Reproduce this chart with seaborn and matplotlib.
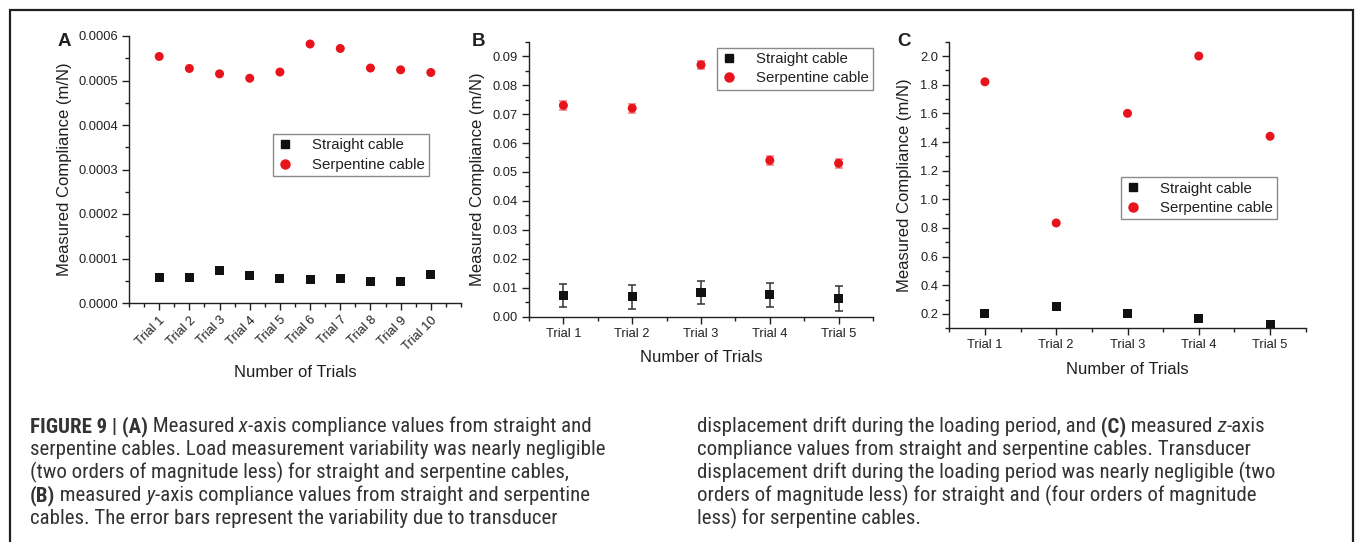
import numpy as np
import pandas as pd
import matplotlib
matplotlib.use("Agg")
import matplotlib.pyplot as plt
from matplotlib.ticker import MultipleLocator, FixedLocator
import seaborn as sns

# ---- data ----
trials_a = ["Trial %d" % i for i in range(1, 11)]
trials_bc = ["Trial %d" % i for i in range(1, 6)]

a_straight = [5.7e-5, 5.7e-5, 7.2e-5, 6.1e-5, 5.4e-5, 5.2e-5, 5.6e-5, 4.9e-5, 4.9e-5, 6.3e-5]
a_serpentine = [5.54e-4, 5.27e-4, 5.15e-4, 5.05e-4, 5.19e-4, 5.82e-4, 5.72e-4, 5.28e-4, 5.24e-4, 5.18e-4]

b_straight = [0.0072, 0.0069, 0.0084, 0.0076, 0.0062]
b_straight_err = [0.0040, 0.0042, 0.0040, 0.0041, 0.0043]
b_serpentine = [0.073, 0.072, 0.087, 0.054, 0.053]
b_serpentine_err = [0.0015, 0.0015, 0.0015, 0.0015, 0.0015]

c_straight = [0.200, 0.254, 0.200, 0.165, 0.128]
c_serpentine = [1.82, 0.835, 1.60, 2.00, 1.44]

series_names = ["Straight cable", "Serpentine cable"]

W, H = 1355, 542
INK = "#231f20"
RED = "#e8141b"

sns.set_style("ticks")
plt.rcParams["font.family"] = ["Liberation Sans", "DejaVu Sans"]
plt.rcParams["text.color"] = INK
plt.rcParams["axes.labelcolor"] = INK
plt.rcParams["xtick.color"] = INK
plt.rcParams["ytick.color"] = INK

fig = plt.figure(figsize=(W / 100, H / 100), dpi=100)


def px_axes(left, right, top, bottom):
    return fig.add_axes([left / W, 1 - bottom / H, (right - left) / W, (bottom - top) / H])


def draw_panel(ax, labels, straight, serp, ylim, ymajor, yminor, yfmt, xlim,
               s_err=None, r_err=None, rotate=False):
    x = np.arange(1, len(labels) + 1)
    df = pd.DataFrame({"trial": np.concatenate([x, x]),
                       "value": np.concatenate([straight, serp]),
                       "cable": [series_names[0]] * len(x) + [series_names[1]] * len(x)})
    if s_err is not None:
        ax.errorbar(x, straight, yerr=s_err, fmt="none", ecolor="#333333",
                    elinewidth=1.1, capsize=3, capthick=1.1, zorder=2)
    if r_err is not None:
        ax.errorbar(x, serp, yerr=r_err, fmt="none", ecolor="#f07a80",
                    elinewidth=1.1, capsize=3, capthick=1.1, zorder=2)
    sns.scatterplot(data=df, x="trial", y="value", hue="cable", style="cable",
                    palette={series_names[0]: "#111111", series_names[1]: RED},
                    markers={series_names[0]: "s", series_names[1]: "o"},
                    s=42, linewidth=0, ax=ax, zorder=3, legend=False)
    ax.set_xlim(*xlim)
    ax.set_ylim(*ylim)
    ax.xaxis.set_major_locator(FixedLocator(x))
    ax.xaxis.set_minor_locator(FixedLocator(np.arange(xlim[0], xlim[1] + 0.01, 0.5)))
    ax.set_xticklabels(labels)
    ax.yaxis.set_major_locator(MultipleLocator(ymajor))
    ax.yaxis.set_minor_locator(MultipleLocator(yminor))
    ax.yaxis.set_major_formatter(yfmt)
    for s in ["top", "right"]:
        ax.spines[s].set_visible(False)
    for s in ["left", "bottom"]:
        ax.spines[s].set_linewidth(1.0)
        ax.spines[s].set_color(INK)
    ax.tick_params(which="major", length=5, width=1, labelsize=9.3, pad=3, direction="out")
    ax.tick_params(which="minor", length=3, width=1, direction="out")
    if rotate:
        for t in ax.get_xticklabels():
            t.set_rotation(45)
            t.set_ha("right")
            t.set_rotation_mode("anchor")
    ax.set_xlabel("Number of Trials", fontsize=12)
    ax.set_ylabel("Measured Compliance (m/N)", fontsize=12)
    ax.set_facecolor("none")


def add_legend(ax, anchor):
    h = [plt.Line2D([], [], ls="none", marker="s", color="#111111", ms=6),
         plt.Line2D([], [], ls="none", marker="o", color=RED, ms=6.5)]
    leg = ax.legend(h, series_names, loc="upper left", bbox_to_anchor=anchor,
                    borderaxespad=0, fontsize=10.8, frameon=True, fancybox=False,
                    handlelength=1.0, handletextpad=1.3, labelspacing=0.35,
                    borderpad=0.3)
    leg.get_frame().set_edgecolor("#8a8a8a")
    leg.get_frame().set_linewidth(1.0)
    leg.get_frame().set_facecolor("white")
    leg.get_frame().set_alpha(1)


# ---- panel A ----
axA = px_axes(129, 461, 36, 303)
draw_panel(axA, trials_a, a_straight, a_serpentine, (0, 0.0006), 0.0001, 0.00005,
           "{x:.4f}", (0, 11), rotate=True)
axA.yaxis.set_label_coords((72 - 129) / 332, 0.5)
axA.xaxis.set_label_coords(0.5, (303 - 365) / 267)
add_legend(axA, ((273 - 129) / 332, (303 - 134) / 267))

# ---- panel B ----
axB = px_axes(529, 873, 41.7, 316.7)
draw_panel(axB, trials_bc, b_straight, b_serpentine, (0, 0.095), 0.01, 0.005,
           "{x:.2f}", (0.5, 5.5), s_err=b_straight_err, r_err=b_serpentine_err)
axB.yaxis.set_label_coords((485 - 529) / 344, 0.5)
axB.xaxis.set_label_coords(0.5, (316.7 - 350) / 275)
add_legend(axB, ((717 - 529) / 344, (316.7 - 47.7) / 275))

# ---- panel C ----
axC = px_axes(949.3, 1305.7, 41.7, 328.3)
draw_panel(axC, trials_bc, c_straight, c_serpentine, (0.1, 2.1), 0.2, 0.1,
           "{x:.1f}", (0.5, 5.5))
axC.yaxis.set_major_locator(FixedLocator(np.arange(0.2, 2.01, 0.2)))
axC.yaxis.set_label_coords((912 - 949.3) / 356.4, 0.5)
axC.xaxis.set_label_coords(0.5, (328.3 - 361.7) / 286.6)
add_legend(axC, ((1121 - 949.3) / 356.4, (328.3 - 177) / 286.6))

# panel letters
for letter, xp in [("A", 58), ("B", 472), ("C", 897)]:
    fig.text(xp / W, 1 - 33 / H, letter, fontsize=13.5, fontweight="bold",
             va="top", ha="left", color=INK)

# outer frame
frame = plt.Rectangle((9.5 / W, -0.05), (1353 - 9.5) / W, 1.05 - 10 / H,
                      transform=fig.transFigure, fill=False, lw=1.6,
                      edgecolor=INK, zorder=10)
fig.add_artist(frame)

# ---- caption ----
cap_family = ["Roboto Condensed", "Liberation Sans Narrow", "Archivo Narrow", "Liberation Sans"]
cap_left = [
    [("FIGURE 9 | (A)", "bold", "normal"), (" Measured", "normal", "normal"),
     (" x", "normal", "italic"), ("-axis compliance values from straight and", "normal", "normal")],
    [("serpentine cables. Load measurement variability was nearly negligible", "normal", "normal")],
    [("(two orders of magnitude less) for straight and serpentine cables,", "normal", "normal")],
    [("(B)", "bold", "normal"), (" measured", "normal", "normal"), (" y", "normal", "italic"),
     ("-axis compliance values from straight and serpentine", "normal", "normal")],
    [("cables. The error bars represent the variability due to transducer", "normal", "normal")],
]
cap_right = [
    [("displacement drift during the loading period, and", "normal", "normal"),
     (" (C)", "bold", "normal"), (" measured", "normal", "normal"), (" z", "normal", "italic"),
     ("-axis", "normal", "normal")],
    [("compliance values from straight and serpentine cables. Transducer", "normal", "normal")],
    [("displacement drift during the loading period was nearly negligible (two", "normal", "normal")],
    [("orders of magnitude less) for straight and (four orders of magnitude", "normal", "normal")],
    [("less) for serpentine cables.", "normal", "normal")],
]

renderer = fig.canvas.get_renderer()
probe = fig.text(0, 0, cap_left[1][0][0], fontsize=10, family=cap_family)
cap_size = 10 * 572 / probe.get_window_extent(renderer).width
probe.remove()

baselines = [432, 455, 478, 501, 524]
for column, x0 in [(cap_left, 30), (cap_right, 697)]:
    for runs, yb in zip(column, baselines):
        xp = x0
        for txt, wt, st in runs:
            t = fig.text(xp / W, 1 - yb / H, txt, fontsize=cap_size, fontweight=wt,
                         fontstyle=st, family=cap_family, va="baseline", ha="left",
                         color="#333333")
            xp += t.get_window_extent(renderer).width

fig.savefig("out.png", dpi=100, facecolor="white")
